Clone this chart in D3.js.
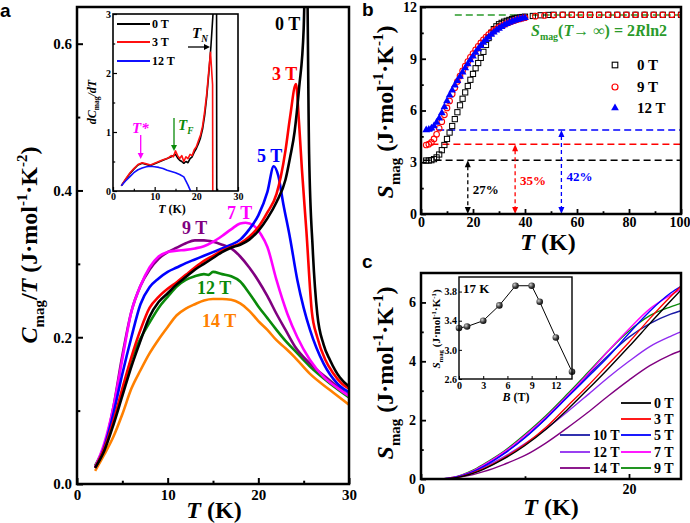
<!DOCTYPE html>
<html><head><meta charset="utf-8">
<script src="https://cdn.jsdelivr.net/npm/d3@7"></script>
<style>body{margin:0;background:#fff}svg{display:block}</style>
</head><body>
<script>
// ---------------- DATA ----------------
// Panel a: C_mag/T (J mol-1 K-2) vs T (K)
const a_0T = [[2,0.022],[3,0.045],[4,0.08],[5,0.12],[6,0.16],[7,0.195],[8,0.228],[9,0.248],[10,0.26],[11,0.272],[12,0.282],[13,0.292],[14,0.30],[15,0.308],[16,0.316],[17,0.322],[18,0.326],[19,0.333],[20,0.345],[21,0.362],[22,0.384],[23,0.415],[23.5,0.445],[24,0.48],[24.5,0.54],[25,0.62],[25.3,0.76],[25.6,0.45],[26,0.32],[26.5,0.232],[27.2,0.19],[27.9,0.169],[29,0.145],[30,0.133]];
const a_3T = [[2,0.022],[3,0.048],[4,0.085],[5,0.13],[6,0.173],[7,0.21],[8,0.24],[9,0.255],[10,0.266],[11,0.275],[12,0.285],[13,0.295],[14,0.304],[15,0.311],[16,0.318],[17,0.323],[18,0.328],[19,0.337],[20,0.35],[21,0.37],[22,0.395],[22.5,0.42],[23,0.455],[23.5,0.5],[24.15,0.545],[24.5,0.49],[24.8,0.43],[25.3,0.345],[25.9,0.235],[26.5,0.2],[27.4,0.169],[28.2,0.152],[29.2,0.137],[30,0.13]];
const a_5T = [[2,0.022],[3,0.05],[4,0.095],[5,0.15],[6,0.2],[7,0.245],[8,0.268],[9,0.28],[10,0.289],[11,0.295],[12,0.301],[13,0.306],[14,0.311],[15,0.316],[16,0.321],[17,0.326],[18,0.333],[19,0.347],[20,0.366],[21,0.398],[21.7,0.433],[22.2,0.42],[22.75,0.382],[23.5,0.335],[24.3,0.278],[25,0.24],[25.7,0.21],[27.2,0.164],[28.7,0.137],[30,0.125]];
const a_7T = [[2,0.023],[3,0.055],[4,0.104],[5,0.17],[6,0.235],[7,0.27],[8,0.295],[9,0.31],[10,0.316],[11,0.318],[12,0.319],[13,0.321],[14,0.324],[15,0.33],[16,0.338],[17,0.347],[18,0.355],[18.6,0.356],[19.5,0.352],[20.3,0.34],[21,0.323],[22,0.278],[23.2,0.232],[24.3,0.2],[25.7,0.169],[27.2,0.146],[28.7,0.131],[30,0.12]];
const a_9T = [[2,0.023],[3,0.05],[4,0.104],[5,0.175],[6,0.235],[7,0.27],[8,0.292],[9,0.307],[10,0.316],[11,0.322],[12,0.328],[13,0.332],[14,0.332],[15,0.33],[16,0.326],[17,0.321],[18,0.31],[19,0.295],[20,0.277],[21,0.256],[22,0.232],[23,0.21],[24,0.188],[25.7,0.164],[27.9,0.141],[30,0.12]];
const a_12T = [[2,0.025],[3,0.05],[4,0.085],[5,0.125],[6,0.17],[7,0.198],[8,0.22],[9,0.24],[10,0.255],[11,0.269],[12,0.278],[13,0.283],[14,0.286],[14.5,0.285],[15,0.289],[16,0.286],[17,0.283],[18,0.276],[19,0.26],[20,0.242],[21,0.226],[22,0.21],[23,0.195],[24,0.182],[25.7,0.16],[27.9,0.137],[30,0.118]];
const a_14T = [[2,0.018],[3,0.04],[4,0.064],[5,0.095],[6,0.13],[7,0.155],[8,0.178],[9,0.197],[10,0.214],[11,0.23],[12,0.239],[13,0.245],[14,0.25],[15,0.252],[16,0.252],[17,0.251],[18,0.246],[19,0.236],[20,0.222],[21,0.21],[22,0.196],[23,0.185],[24,0.173],[25.7,0.15],[27.9,0.128],[30,0.108]];
const aLabels = ["0 T","3 T","5 T","7 T","9 T","12 T","14 T"];
const aTicksX = [0,10,20,30], aTicksY = [0,0.2,0.4,0.6];

// Panel a inset: dC_mag/dT
const ai_0T = [[2,0.09],[3,0.19],[4,0.29],[5,0.37],[6,0.44],[7,0.47],[8,0.45],[9,0.43],[10,0.46],[11,0.49],[12,0.52],[13,0.55],[14,0.58],[15,0.62],[15.5,0.56],[16,0.52],[16.5,0.5],[17,0.47],[17.5,0.5],[18,0.48],[18.5,0.55],[19,0.58],[19.5,0.66],[20,0.72],[20.5,0.8],[21,0.9],[21.5,1.05],[22,1.28],[22.5,1.6],[23,2.0],[23.5,2.45],[24,3.0],[24.3,3.6],[24.85,3.6],[24.9,-0.3]];
const ai_3T = [[2,0.09],[3,0.2],[4,0.3],[5,0.38],[6,0.45],[7,0.48],[8,0.46],[9,0.44],[10,0.47],[11,0.5],[12,0.53],[13,0.55],[14,0.6],[14.5,0.58],[15,0.68],[15.5,0.6],[16,0.55],[16.5,0.6],[17,0.5],[17.5,0.58],[18,0.55],[18.5,0.62],[19,0.6],[19.5,0.7],[20,0.75],[20.5,0.85],[21,0.95],[21.5,1.1],[22,1.35],[22.5,1.65],[23,2.05],[23.4,2.35],[23.9,1.8],[23.95,-0.3]];
const ai_12T = [[2,0.09],[3,0.17],[4,0.24],[5,0.31],[6,0.36],[7,0.39],[8,0.41],[9,0.42],[10,0.41],[11,0.4],[12,0.38],[13,0.35],[14,0.33],[15,0.31],[16,0.28],[17,0.24],[18,0.1],[18.5,0.02],[19,-0.1]];
const aiLabels = ["0 T","3 T","12 T"];

// Panel b: S_mag vs T
const b_0T = [[2,3.10],[3,3.10],[4,3.12],[5,3.18],[6,3.28],[7,3.45],[8,3.70],[9,4.00],[10,4.35],[11,4.72],[12,5.10],[13,5.50],[14,5.90],[15,6.30],[16,6.68],[17,7.05],[18,7.42],[19,7.78],[20,8.12],[21,8.45],[22,8.75],[23,9.05],[24,9.40],[25,9.80],[26,10.20],[27,10.50],[28,10.72],[29,10.88],[30,11.00],[31,11.08],[32,11.15],[33,11.20],[34,11.25],[35,11.30],[36,11.34],[37,11.37],[38,11.40],[39,11.42],[40,11.44],[43,11.48],[46,11.52],[49,11.54],[51,11.55],[54.5,11.55],[58,11.55],[61.5,11.55],[65,11.55],[68.5,11.55],[72,11.55],[75.5,11.55],[79,11.55],[82.5,11.55],[86,11.55],[89.5,11.55],[93,11.55],[96.5,11.55],[100,11.55]];
const b_9T = [[2,4.00],[3,4.05],[4,4.15],[5,4.35],[6,4.62],[7,4.97],[8,5.35],[9,5.75],[10,6.15],[11,6.55],[12,6.95],[13,7.32],[14,7.68],[15,8.00],[16,8.30],[17,8.58],[18,8.84],[19,9.08],[20,9.30],[21,9.52],[22,9.72],[23,9.92],[24,10.10],[25,10.26],[26,10.40],[27,10.53],[28,10.64],[29,10.74],[30,10.83],[31,10.91],[32,10.98],[33,11.05],[34,11.11],[35,11.17],[36,11.22],[37,11.27],[38,11.31],[39,11.35],[40,11.38],[44,11.47],[47.5,11.51],[51,11.53],[54.5,11.55],[58,11.55],[61.5,11.55],[65,11.55],[68.5,11.55],[72,11.55],[75.5,11.55],[79,11.55],[82.5,11.55],[86,11.55],[89.5,11.55],[93,11.55],[96.5,11.55],[100,11.55]];
const b_12T = [[2,4.87],[3,4.90],[4,4.97],[5,5.10],[6,5.30],[7,5.55],[8,5.85],[9,6.20],[10,6.55],[11,6.88],[12,7.18],[13,7.46],[14,7.72],[15,7.97],[16,8.22],[17,8.46],[18,8.70],[19,8.93],[20,9.15],[21,9.36],[22,9.56],[23,9.76],[24,9.94],[25,10.10],[26,10.25],[27,10.40],[28,10.53],[29,10.65],[30,10.76],[31,10.86],[32,10.95],[33,11.03],[34,11.10],[35,11.16],[36,11.21],[37,11.26],[38,11.30],[39,11.34],[40,11.37]];
const bLabels = ["0 T","9 T","12 T"];
const bLevels = [3.11, 4.04, 4.87];      // residual entropy at lowest T
const bPercent = ["27%","35%","42%"];
const bArrowT = [18, 36.2, 54];
const bSinf = 11.53;                      // 2R ln2
const bTicksX = [0,20,40,60,80,100], bTicksY = [0,3,6,9,12];

// Panel c: S_mag vs T
const cT = [2,3,4,5,6,8,10,12,14,16,18,20,22,24,25];
const c_0T  = [0,0.03,0.09,0.19,0.33,0.69,1.14,1.68,2.33,3.03,3.75,4.50,5.28,6.05,6.42];
const c_3T  = [0,0.03,0.10,0.21,0.35,0.72,1.18,1.75,2.45,3.15,3.90,4.65,5.45,6.20,6.55];
const c_5T  = [0,0.04,0.12,0.25,0.42,0.86,1.40,2.05,2.75,3.45,4.15,4.95,5.70,6.32,6.55];
const c_7T  = [0,0.05,0.14,0.28,0.47,0.92,1.48,2.10,2.80,3.55,4.35,5.10,5.78,6.25,6.45];
const c_9T  = [0,0.05,0.15,0.30,0.50,0.95,1.52,2.15,2.86,3.60,4.35,5.03,5.55,5.85,5.97];
const c_10T = [0,0.04,0.13,0.27,0.45,0.88,1.42,2.05,2.78,3.50,4.20,4.82,5.28,5.60,5.72];
const c_12T = [0,0.04,0.12,0.24,0.39,0.76,1.20,1.70,2.26,2.85,3.45,4.00,4.50,4.85,5.00];
const c_14T = [0,0.03,0.08,0.15,0.25,0.50,0.80,1.22,1.72,2.25,2.82,3.36,3.85,4.22,4.36];
const cLabels = ["0 T","3 T","5 T","7 T","9 T","10 T","12 T","14 T"];
// Panel c inset: S_mag at 17 K vs B
const ciB = [0,1,3,5,7,9,10,12,14];
const ciS = [3.30,3.32,3.40,3.61,3.88,3.88,3.66,3.17,2.70];

// ---------------- STYLE ----------------
const FF = "'Liberation Serif','Times New Roman',serif";
const COL = {"0 T":"#000000","3 T":"#ff0000","5 T":"#0000ff","7 T":"#ff00ff","9 T":"#800080","12 T":"#0a8a0a","14 T":"#ff8000"};
const COLC = {"0 T":"#000000","3 T":"#ff0000","5 T":"#0000ff","7 T":"#ff00ff","9 T":"#0a8a0a","10 T":"#1a1aa6","12 T":"#8f2bf0","14 T":"#800080"};
const GREEN = "#2a9a2a";
const fInt = d3.format('d');

const svg = d3.select('body').append('svg').attr('width',690).attr('height',523)
  .style('font-family',FF).style('font-weight','bold');
const defs = svg.append('defs');

function clip(id,x,y,w,h){defs.append('clipPath').attr('id',id).append('rect').attr('x',x).attr('y',y).attr('width',w).attr('height',h);}

function rich(sel, parts, fs){
  let cur=0;
  parts.forEach(p=>{
    const t = p.sub? fs*0.28 : p.sup? -fs*0.4 : 0;
    const ts = sel.append('tspan').attr('dy', t-cur).text(p.t)
      .attr('font-size', (p.sub||p.sup)? fs*0.62 : fs);
    if(p.i) ts.attr('font-style','italic');
    cur=t;
  });
  return sel;
}

function axes(g, x, y, o){
  const [x0,x1]=x.range(), [y0,y1]=y.range();
  const sty = s=>{s.select('.domain').remove(); s.attr('font-family',FF).attr('font-size',o.fs).attr('font-weight','bold');
    s.selectAll('line').attr('stroke','#000').attr('stroke-width',o.tw||1.5); s.selectAll('text').attr('fill','#000');};
  const bx = g.append('g').attr('transform',`translate(0,${y0})`)
    .call(d3.axisBottom(x).tickValues(o.xMaj).tickSize(-o.tl).tickPadding(o.padX).tickFormat(o.fx||fInt)).call(sty);
  if(o.xMin) g.append('g').attr('transform',`translate(0,${y0})`)
    .call(d3.axisBottom(x).tickValues(o.xMin).tickSize(-o.tl*0.55).tickFormat('')).call(sty);
  g.append('g').attr('transform',`translate(${x0},0)`)
    .call(d3.axisLeft(y).tickValues(o.yMaj).tickSize(-o.tl).tickPadding(o.padY).tickFormat(o.fy||fInt)).call(sty);
  if(o.yMin) g.append('g').attr('transform',`translate(${x0},0)`)
    .call(d3.axisLeft(y).tickValues(o.yMin).tickSize(-o.tl*0.55).tickFormat('')).call(sty);
  g.append('rect').attr('x',x0).attr('y',y1).attr('width',x1-x0).attr('height',y0-y1)
    .attr('fill','none').attr('stroke','#000').attr('stroke-width',o.sw);
  return bx;
}

function head(g,x,y,dir,col,w,l){
  let p;
  if(dir==='up') p=[[x,y],[x-w/2,y+l],[x+w/2,y+l]];
  else if(dir==='down') p=[[x,y],[x-w/2,y-l],[x+w/2,y-l]];
  else p=[[x,y],[x-l,y-w/2],[x-l,y+w/2]];
  g.append('path').attr('d','M'+p.map(q=>q.join(',')).join('L')+'Z').attr('fill',col);
}

// ================= PANEL a =================
const xA = d3.scaleLinear([0,30],[77,349]);
const yA = d3.scaleLinear([0,0.65],[484,7]);
clip('clipA',77,7,272,477);
const gA = svg.append('g');
const lineA = d3.line().x(d=>xA(d[0])).y(d=>yA(d[1])).curve(d3.curveMonotoneX);
const aSeries = [a_0T,a_3T,a_5T,a_7T,a_9T,a_12T,a_14T];
const gAl = gA.append('g').attr('clip-path','url(#clipA)');
[6,5,4,3,2,1,0].forEach(i=>{
  gAl.append('path').attr('d',lineA(aSeries[i])).attr('fill','none')
    .attr('stroke',COL[aLabels[i]]).attr('stroke-width',2.6).attr('stroke-linejoin','round');
});
axes(gA,xA,yA,{xMaj:aTicksX,xMin:[5,15,25],yMaj:aTicksY,yMin:[0.1,0.3,0.5],tl:6,padX:5,padY:5,fs:15,sw:2.5,tw:2,fy:d3.format('.1f')});
// curve labels
const aLabPos = {"0 T":[275,30],"3 T":[272,80],"5 T":[257,162],"7 T":[227,219],"9 T":[182,234],"12 T":[197,294],"14 T":[202,327]};
aLabels.forEach(k=>{
  gA.append('text').attr('x',aLabPos[k][0]).attr('y',aLabPos[k][1]).attr('font-size',18)
    .attr('fill',COL[k]).text(k);
});
// axis titles
rich(gA.append('text').attr('x',214).attr('y',518).attr('text-anchor','middle'),
  [{t:'T',i:1},{t:' (K)'}],24);
rich(gA.append('text').attr('transform','translate(37,245) rotate(-90)').attr('text-anchor','middle'),
  [{t:'C',i:1},{t:'mag',sub:1},{t:'/'},{t:'T',i:1},{t:' (J·mol'},{t:'-1',sup:1},{t:'·K'},{t:'-2',sup:1},{t:')'}],24);
svg.append('text').attr('x',0).attr('y',17).attr('font-size',19)
  .attr('font-family',"'Liberation Sans',Arial,sans-serif").text('a');

// ---- inset a ----
const xAi = d3.scaleLinear([0,30],[113,238]);
const yAi = d3.scaleLinear([0,3],[191,14]);
clip('clipAi',113,14,125,177);
const gAi = svg.append('g');
gAi.append('rect').attr('x',113).attr('y',14).attr('width',125).attr('height',177).attr('fill','#fff');
const lineAi = d3.line().x(d=>xAi(d[0])).y(d=>yAi(d[1]));
const aiSeries = [ai_0T,ai_3T,ai_12T];
const aiCol = ["#000000","#ff1010","#1010ff"];
const gAil = gAi.append('g').attr('clip-path','url(#clipAi)');
[0,1,2].forEach(i=>{
  gAil.append('path').attr('d',lineAi(aiSeries[i])).attr('fill','none')
    .attr('stroke',aiCol[i]).attr('stroke-width',1.6).attr('stroke-linejoin','round');
});
axes(gAi,xAi,yAi,{xMaj:[0,10,20,30],xMin:[5,15,25],yMaj:[0,1,2,3],yMin:[0.5,1.5,2.5],tl:4,padX:2,padY:2,fs:10,sw:1.6,tw:1.2});
aiLabels.forEach((k,i)=>{
  const yy=[24,42,61][i];
  gAi.append('line').attr('x1',117).attr('x2',150).attr('y1',yy).attr('y2',yy).attr('stroke',aiCol[i]).attr('stroke-width',1.8);
  gAi.append('text').attr('x',152).attr('y',yy+4).attr('font-size',12).text(k);
});
rich(gAi.append('text').attr('x',172).attr('y',213).attr('text-anchor','middle'),[{t:'T',i:1},{t:' (K)'}],12);
rich(gAi.append('text').attr('transform','translate(96,102) rotate(-90)').attr('text-anchor','middle'),
  [{t:'dC',i:1},{t:'mag',sub:1},{t:'/dT',i:1}],12);
// annotations
rich(gAi.append('text').attr('x',192).attr('y',38),[{t:'T',i:1},{t:'N',sub:1,i:1}],15);
gAi.append('line').attr('x1',188).attr('x2',205).attr('y1',47).attr('y2',47).attr('stroke','#000').attr('stroke-width',1.3);
head(gAi,210,47,'right','#000',6,6);
rich(gAi.append('text').attr('x',132).attr('y',133).attr('fill','#ff00ff'),[{t:'T*',i:1}],15);
gAi.append('line').attr('x1',140.7).attr('x2',140.7).attr('y1',135).attr('y2',153).attr('stroke','#ff00ff').attr('stroke-width',1.3);
head(gAi,140.7,159,'down','#ff00ff',6,6);
rich(gAi.append('text').attr('x',178).attr('y',130).attr('fill','#0a8a0a'),[{t:'T',i:1},{t:'F',sub:1,i:1}],15);
gAi.append('line').attr('x1',174).attr('x2',174).attr('y1',118).attr('y2',145).attr('stroke','#0a8a0a').attr('stroke-width',1.3);
head(gAi,174,151,'down','#0a8a0a',6,6);

// ================= PANEL b =================
const xB = d3.scaleLinear([0,100],[421,681]);
const yB = d3.scaleLinear([0,12],[214,7]);
clip('clipB',421,7,260,207);
const gB = svg.append('g');
const gBc = gB.append('g').attr('clip-path','url(#clipB)');
// dashed reference lines
const dashCol = ["#000000","#ff0000","#0000ff"];
const dashStart = [1,4,2];
bLevels.forEach((v,i)=>{
  gBc.append('line').attr('x1',xB(dashStart[i])).attr('x2',xB(100)).attr('y1',yB(v)).attr('y2',yB(v))
    .attr('stroke',dashCol[i]).attr('stroke-width',1.5).attr('stroke-dasharray','7,4');
});
gBc.append('line').attr('x1',xB(13)).attr('x2',xB(100)).attr('y1',yB(bSinf)).attr('y2',yB(bSinf))
  .attr('stroke',GREEN).attr('stroke-width',1.5).attr('stroke-dasharray','7,4');
// markers
gBc.append('g').selectAll('rect').data(b_0T).join('rect')
  .attr('x',d=>xB(d[0])-2.6).attr('y',d=>yB(d[1])-2.6).attr('width',5.2).attr('height',5.2)
  .attr('fill','none').attr('stroke','#000').attr('stroke-width',1);
gBc.append('g').selectAll('circle').data(b_9T).join('circle')
  .attr('cx',d=>xB(d[0])).attr('cy',d=>yB(d[1])).attr('r',2.8)
  .attr('fill','none').attr('stroke','#ff0000').attr('stroke-width',1.1);
const tri = d3.symbol().type(d3.symbolTriangle).size(26);
gBc.append('g').selectAll('path').data(b_12T).join('path')
  .attr('transform',d=>`translate(${xB(d[0])},${yB(d[1])})`).attr('d',tri).attr('fill','#0000ff');
// double arrows
bLevels.forEach((v,i)=>{
  const x=xB(bArrowT[i]);
  gB.append('line').attr('x1',x).attr('x2',x).attr('y1',yB(v)+6).attr('y2',yB(0)-6)
    .attr('stroke',dashCol[i]).attr('stroke-width',1.3).attr('stroke-dasharray','4,3');
  head(gB,x,yB(v),'up',dashCol[i],6,7);
  head(gB,x,yB(0),'down',dashCol[i],6,7);
  gB.append('text').attr('x',x+5).attr('y',[194,185,181][i]).attr('font-size',13)
    .attr('fill',dashCol[i]).text(bPercent[i]);
});
const bxB = axes(gB,xB,yB,{xMaj:bTicksX,xMin:[10,30,50,70,90],yMaj:bTicksY,yMin:[1.5,4.5,7.5,10.5],tl:5,padX:3,padY:4,fs:14,sw:2.5,tw:1.8});
bxB.selectAll('.tick').filter(d=>d===100).select('text').attr('text-anchor','end').attr('dx',9);
rich(gB.append('text').attr('x',531).attr('y',36).attr('fill',GREEN),
  [{t:'S',i:1},{t:'mag',sub:1},{t:'('},{t:'T',i:1},{t:'→ ∞) = 2'},{t:'R',i:1},{t:'ln2'}],16);
// legend
const bLegY=[65,87,108];
gB.append('rect').attr('x',615-2.8).attr('y',bLegY[0]-2.8).attr('width',5.6).attr('height',5.6).attr('fill','none').attr('stroke','#000').attr('stroke-width',1.1);
gB.append('circle').attr('cx',615).attr('cy',bLegY[1]).attr('r',3).attr('fill','none').attr('stroke','#f00').attr('stroke-width',1.2);
gB.append('path').attr('transform',`translate(615,${bLegY[2]})`).attr('d',tri).attr('fill','#00f');
bLabels.forEach((k,i)=>gB.append('text').attr('x',637).attr('y',bLegY[i]+5).attr('font-size',15).text(k));
rich(gB.append('text').attr('x',548).attr('y',250).attr('text-anchor','middle'),[{t:'T',i:1},{t:' (K)'}],24);
rich(gB.append('text').attr('transform','translate(393,112) rotate(-90)').attr('text-anchor','middle'),
  [{t:'S',i:1},{t:'mag',sub:1},{t:' (J·mol'},{t:'-1',sup:1},{t:'·K'},{t:'-1',sup:1},{t:')'}],24);
svg.append('text').attr('x',362).attr('y',16).attr('font-size',19)
  .attr('font-family',"'Liberation Sans',Arial,sans-serif").text('b');

// ================= PANEL c =================
const xC = d3.scaleLinear([0,25],[421,681]);
const yC = d3.scaleLinear([0,7],[479,273]);
clip('clipC',421,273,260,206);
const gC = svg.append('g');
const lineC = d3.line().x((d,i)=>xC(cT[i])).y(d=>yC(d)).curve(d3.curveMonotoneX);
const cSeries = {"0 T":c_0T,"3 T":c_3T,"5 T":c_5T,"7 T":c_7T,"9 T":c_9T,"10 T":c_10T,"12 T":c_12T,"14 T":c_14T};
const gCl = gC.append('g').attr('clip-path','url(#clipC)');
["14 T","12 T","10 T","9 T","7 T","5 T","3 T","0 T"].forEach(k=>{
  gCl.append('path').attr('d',lineC(cSeries[k])).attr('fill','none')
    .attr('stroke',COLC[k]).attr('stroke-width',1.4);
});
axes(gC,xC,yC,{xMaj:[0,20],xMin:[10],yMaj:[0,2,4,6],yMin:[1,3,5],tl:5,padX:5,padY:5,fs:14,sw:2.5,tw:1.8});
// legend
const cLeg = [["0 T",621,403],["3 T",621,419],["5 T",621,435],["7 T",621,452],["9 T",621,468],
              ["10 T",560,435],["12 T",560,452],["14 T",560,468]];
cLeg.forEach(([k,x,y])=>{
  gC.append('line').attr('x1',x).attr('x2',x+30).attr('y1',y).attr('y2',y).attr('stroke',COLC[k]).attr('stroke-width',1.8);
  gC.append('text').attr('x',x+33).attr('y',y+5).attr('font-size',14).text(k);
});
rich(gC.append('text').attr('x',551).attr('y',515).attr('text-anchor','middle'),[{t:'T',i:1},{t:' (K)'}],24);
rich(gC.append('text').attr('transform','translate(393,373) rotate(-90)').attr('text-anchor','middle'),
  [{t:'S',i:1},{t:'mag',sub:1},{t:' (J·mol'},{t:'-1',sup:1},{t:'·K'},{t:'-1',sup:1},{t:')'}],24);
svg.append('text').attr('x',362).attr('y',268).attr('font-size',19)
  .attr('font-family',"'Liberation Sans',Arial,sans-serif").text('c');

// ---- inset c ----
const xCi = d3.scaleLinear([0,14],[459,572]);
const yCi = d3.scaleLinear([2.6,4.0],[379,277]);
const gCi = svg.append('g');
gCi.append('rect').attr('x',459).attr('y',277).attr('width',113).attr('height',102).attr('fill','#fff');
const grad = defs.append('radialGradient').attr('id','ball').attr('cx','35%').attr('cy','35%').attr('r','65%');
grad.append('stop').attr('offset','0%').attr('stop-color','#d0d0d0');
grad.append('stop').attr('offset','60%').attr('stop-color','#404040');
grad.append('stop').attr('offset','100%').attr('stop-color','#101010');
const lineCi = d3.line().x((d,i)=>xCi(ciB[i])).y(d=>yCi(d));
gCi.append('path').attr('d',lineCi(ciS)).attr('fill','none').attr('stroke','#000').attr('stroke-width',1);
gCi.append('g').selectAll('circle').data(ciS).join('circle')
  .attr('cx',(d,i)=>xCi(ciB[i])).attr('cy',d=>yCi(d)).attr('r',3.3).attr('fill','url(#ball)');
axes(gCi,xCi,yCi,{xMaj:[0,3,6,9,12],yMaj:[2.6,3.0,3.4,3.8],tl:3,padX:3,padY:2,fs:10,sw:1.4,tw:1,fy:d3.format('.1f')});
gCi.append('text').attr('x',463).attr('y',293).attr('font-size',13).text('17 K');
rich(gCi.append('text').attr('x',516).attr('y',401).attr('text-anchor','middle'),[{t:'B',i:1},{t:' (T)'}],12);
rich(gCi.append('text').attr('transform','translate(440,329) rotate(-90)').attr('text-anchor','middle'),
  [{t:'S',i:1},{t:'mag',sub:1},{t:' (J·mol'},{t:'-1',sup:1},{t:'·K'},{t:'-1',sup:1},{t:')'}],11);
</script></body></html>
